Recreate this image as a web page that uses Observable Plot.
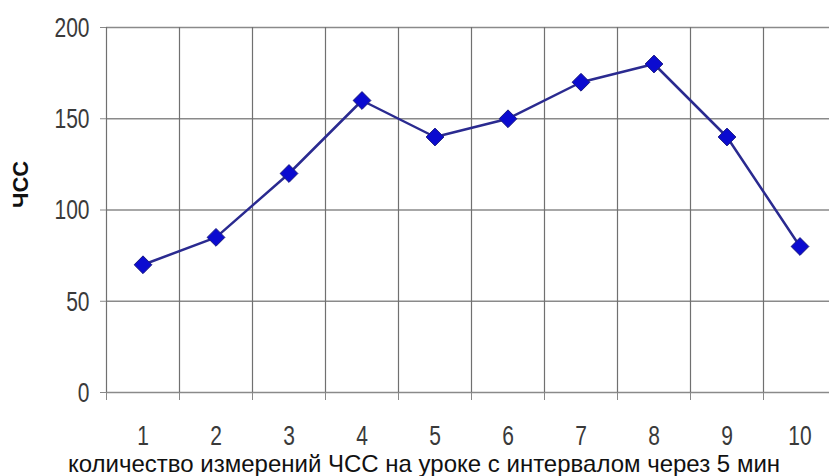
<!DOCTYPE html>
<html>
<head>
<meta charset="utf-8">
<script src="https://cdn.jsdelivr.net/npm/d3@7"></script>
<script src="https://cdn.jsdelivr.net/npm/@observablehq/plot@0.6"></script>
<style>
  html, body { margin: 0; padding: 0; background: #fff; overflow: hidden; }
</style>
</head>
<body>
<div id="chart"></div>
<script>
const measurements = [1, 2, 3, 4, 5, 6, 7, 8, 9, 10];
const heartRate = [70, 85, 120, 160, 140, 150, 170, 180, 140, 80];
const yTicks = [0, 50, 100, 150, 200];
const xTitle = "количество измерений ЧСС на уроке с интервалом через 5 мин";
const yTitle = "ЧСС";

const data = measurements.map((m, i) => ({m, v: heartRate[i]}));
const boundaries = measurements.map(m => m - 0.5);

const chart = Plot.plot({
  width: 829,
  height: 476,
  marginLeft: 106,
  marginRight: 0,
  marginTop: 27,
  marginBottom: 84,
  x: {domain: [0.5, 10.5], range: [106, 836]},
  y: {domain: [0, 200]},
  style: {fontFamily: "'Liberation Sans', Arial, sans-serif", fontSize: "20px", color: "#333", background: "#fff"},
  marks: [
    Plot.ruleY(yTicks, {stroke: "#8a8a8a", strokeWidth: 1.3}),
    Plot.ruleX(boundaries, {y1: 0, y2: 200, stroke: "#707070", strokeWidth: 1.2}),
    Plot.axisX(boundaries, {tickSize: 8, text: null, stroke: "#888", label: null}),
    Plot.axisX(measurements, {tickSize: 0, tickPadding: 35, fontSize: 21, label: null, fill: "#3a3a3a"}),
    Plot.axisY(yTicks, {tickSize: 6, tickPadding: 11, fontSize: 21, label: null, stroke: "#888", fill: "#3a3a3a"}),
    Plot.line(data, {x: "m", y: "v", stroke: "#2a2a90", strokeWidth: 2.5}),
    Plot.dot(data, {x: "m", y: "v", symbol: "diamond2", r: 8, fill: "#0b0bd0", stroke: "#1c1c80", strokeWidth: 1}),
    Plot.text([xTitle], {frameAnchor: "bottom", dy: 79, dx: -44, text: d => d, fontSize: 24, fill: "#111", ariaLabel: "x title"}),
    Plot.text([yTitle], {frameAnchor: "left", dx: -86, dy: -2, rotate: -90, text: d => d, fontSize: 22, fontWeight: "bold", fill: "#111", ariaLabel: "y title"})
  ]
});
document.getElementById("chart").appendChild(chart);

// stretch texts vertically (in page space) like the reference
function stretch(selector, s) {
  chart.querySelectorAll(selector).forEach(t => {
    const b = t.getBBox();
    const cy = b.y + b.height / 2;
    const prev = t.getAttribute("transform") || "";
    t.setAttribute("transform", `${prev} translate(0,${cy}) scale(1,${s}) translate(0,${-cy})`);
  });
}
stretch('g[aria-label$="tick label"] text', 1.35);
stretch('g[aria-label="x title"] text', 1.2);
chart.querySelectorAll('g[aria-label="y title"] text').forEach(t => {
  t.setAttribute("textLength", 64);
  t.setAttribute("lengthAdjust", "spacingAndGlyphs");
});
</script>
</body>
</html>
